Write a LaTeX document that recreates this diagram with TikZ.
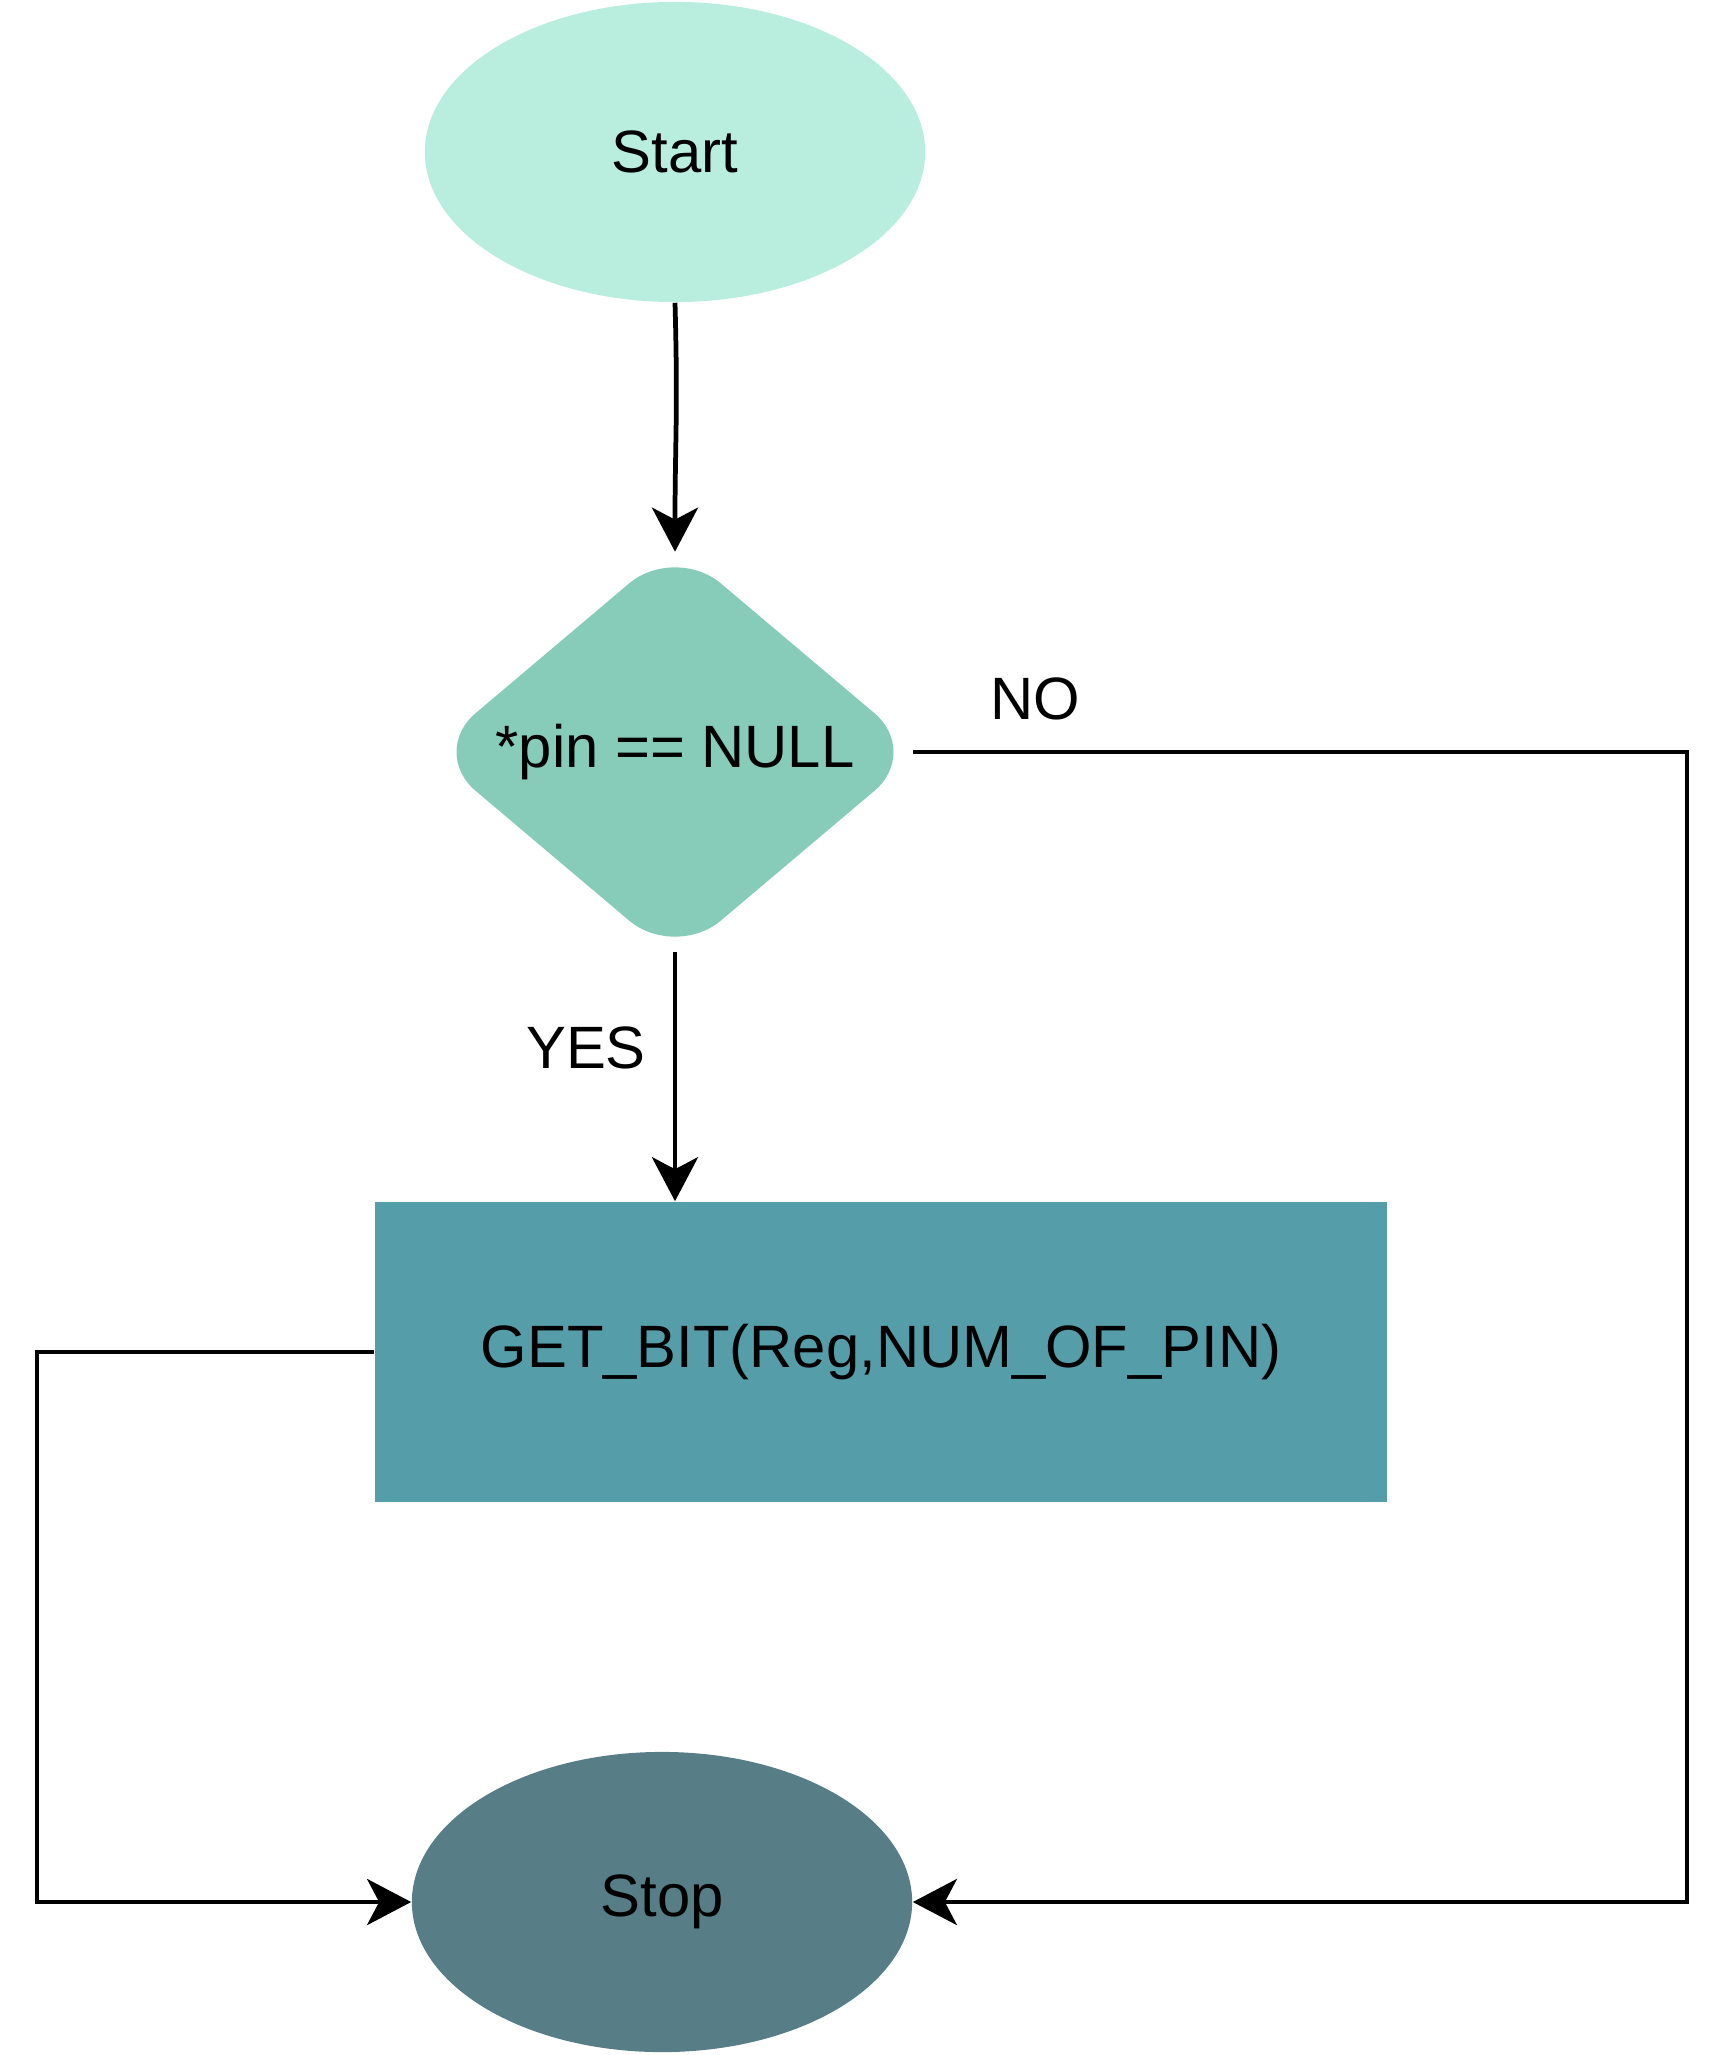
\documentclass[tikz,border=0pt]{standalone}
\usepackage{fontspec}
\setmainfont{Liberation Sans}
\usepackage{tikz}
\usetikzlibrary{arrows.meta,shapes.geometric}
\tikzset{>={Stealth[length=0.44cm,width=0.46cm,inset=0.12cm]}}
\definecolor{startc}{HTML}{B9EDDD}
\definecolor{decc}{HTML}{87CBB9}
\definecolor{procc}{HTML}{569DAA}
\definecolor{stopc}{HTML}{577D86}
\tikzset{
  flowtxt/.style={font=\fontsize{17}{20}\selectfont, text=black},
  terminal/.style={ellipse, flowtxt, inner sep=0pt, minimum width=5cm, minimum height=3cm},
  flowline/.style={line width=1.35pt, draw=black}
}

\begin{document}
\begin{tikzpicture}[x=0.01cm, y=-0.01cm]
        \def\gap{-0.08cm}

        \useasboundingbox (0,0) rectangle (1730,2055);

        %start and stop
        \node[terminal, fill=startc] (start) at (675,152) {Start};
        \node[terminal, fill=stopc] (stop) at (662,1902) {Stop};

        %decision
        \node[diamond, flowtxt, fill=decc, inner sep=0pt, aspect=1.18, rounded corners=0.6cm,
              minimum width=4.91cm, minimum height=4.15cm] (dec) at (675,752) {*pin == NULL};

        %process
        \node[rectangle, flowtxt, fill=procc, inner sep=0pt,
              minimum width=10.12cm, minimum height=3cm] (proc) at (881,1352) {GET\_BIT(Reg,NUM\_OF\_PIN)};

        %bends
        \coordinate (nobend) at (1687,752);
        \coordinate (leftbend) at (37,1902);

        %labels
        \node[flowtxt] (nolbl) at (1035,699) {NO};
        \node[flowtxt] (yeslbl) at (586,1048) {YES};

        %connectors
        \draw[flowline, ->, shorten >=\gap] (start.south) .. controls +(0.03cm,-1.1cm) and +(0cm,1cm) .. (dec.north);
        \draw[flowline, ->, shorten <=\gap] (dec.south) -- (dec.south |- proc.north);
        \draw[flowline, ->, shorten <=\gap] (dec.east) -- (nobend) |- (stop.east);
        \draw[flowline, ->] (proc.west) -| (leftbend) -- (stop.west);

    \end{tikzpicture}
\end{document}
